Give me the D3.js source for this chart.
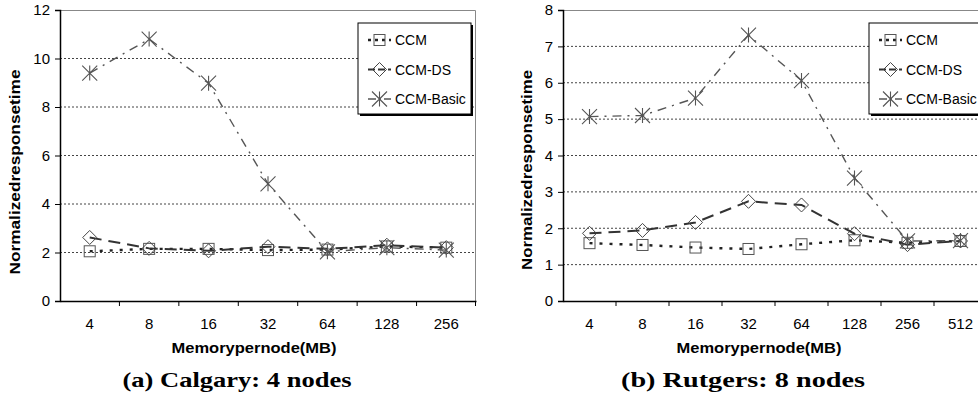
<!DOCTYPE html>
<html>
<head>
<meta charset="utf-8">
<script src="https://cdn.jsdelivr.net/npm/d3@7"></script>
<style>
  body { margin: 0; background: #fff; }
  svg { display: block; }
  text { font-family: Arial, "Liberation Sans", sans-serif; }
  text.caption { font-family: "Liberation Serif", "Times New Roman", serif; }
</style>
</head>
<body>
<svg id="chart" width="978" height="402"></svg>
<script>
// categories (memory per node, MB)
var memA = ["4", "8", "16", "32", "64", "128", "256"];
var memB = ["4", "8", "16", "32", "64", "128", "256", "512"];

// (a) Calgary: 4 nodes
var ccmA      = [2.05, 2.15, 2.15, 2.1, 2.12, 2.25, 2.2];
var ccmDsA    = [2.62, 2.17, 2.07, 2.24, 2.15, 2.3, 2.2];
var ccmBasicA = [9.4, 10.8, 8.98, 4.83, 2.03, 2.2, 2.1];

// (b) Rutgers: 8 nodes
var ccmB      = [1.59, 1.54, 1.47, 1.43, 1.56, 1.67, 1.6, 1.65];
var ccmDsB    = [1.86, 1.94, 2.16, 2.74, 2.64, 1.85, 1.55, 1.65];
var ccmBasicB = [5.07, 5.1, 5.58, 7.31, 6.06, 3.38, 1.65, 1.66];

var seriesNames = ["CCM", "CCM-DS", "CCM-Basic"];
var yTicksA = [0, 2, 4, 6, 8, 10, 12];
var yTicksB = [0, 1, 2, 3, 4, 5, 6, 7, 8];

const svg = d3.select("#chart");

// line + marker look for each series
var styles = {
  "CCM":       { stroke: "#222", width: 2.4, dash: "3,7", marker: "square" },
  "CCM-DS":    { stroke: "#333", width: 2, dash: "12,7", marker: "diamond" },
  "CCM-Basic": { stroke: "#555", width: 1.4, dash: "9,6,2,6", marker: "star" }
};

function drawMarker(g, type, x, y) {
  if (type == "square") {
    g.append("rect").attr("x", x - 5.5).attr("y", y - 5.5)
      .attr("width", 11).attr("height", 11)
      .attr("fill", "none").attr("stroke", "#555").attr("stroke-width", 1);
  } else if (type == "diamond") {
    g.append("path")
      .attr("d", `M${x},${y - 7}L${x + 7},${y}L${x},${y + 7}L${x - 7},${y}Z`)
      .attr("fill", "none").attr("stroke", "#444").attr("stroke-width", 1);
  } else {
    var r = 7.5;
    g.append("path")
      .attr("d", `M${x - r},${y - r}L${x + r},${y + r}M${x - r},${y + r}L${x + r},${y - r}M${x},${y - r}L${x},${y + r}`)
      .attr("fill", "none").attr("stroke", "#555").attr("stroke-width", 1.1);
  }
}

function drawChart(opt) {
  const g = svg.append("g");
  const x = d3.scaleBand().domain(opt.cats).range([opt.left, opt.right]).padding(0);
  const y = d3.scaleLinear().domain([0, opt.yMax]).range([opt.bottom, opt.top]);

  // grid lines
  g.append("g").selectAll("line")
    .data(opt.yTicks.filter(d => d > 0 && d < opt.yMax))
    .enter().append("line")
    .attr("x1", opt.left).attr("x2", opt.right)
    .attr("y1", d => y(d)).attr("y2", d => y(d))
    .attr("stroke", "#444").attr("stroke-width", 1)
    .attr("stroke-dasharray", "2,2");

  // top and right border
  g.append("path")
    .attr("d", `M${opt.left},${y(opt.yMax) + 0.5}H${opt.right - 0.5}V${opt.bottom}`)
    .attr("fill", "none").attr("stroke", "#888").attr("stroke-width", 1);

  // y axis
  const yAxis = g.append("g")
    .attr("transform", `translate(${opt.left},0)`)
    .call(d3.axisLeft(y).tickValues(opt.yTicks).tickSize(5).tickPadding(5).tickFormat(d3.format("d")));
  yAxis.select(".domain").attr("stroke", "#000").attr("stroke-width", 1.5);
  yAxis.selectAll("text").attr("font-size", 15).attr("fill", "#000");

  // x axis, ticks on the category boundaries
  const xAxis = g.append("g")
    .attr("transform", `translate(0,${opt.bottom})`)
    .call(d3.axisBottom(x).tickSize(0).tickPadding(17));
  xAxis.select(".domain").attr("stroke", "#000").attr("stroke-width", 1.5);
  xAxis.selectAll("text").attr("font-size", 15).attr("fill", "#000");
  g.append("g").selectAll("line")
    .data(opt.cats.slice(1))
    .enter().append("line")
    .attr("x1", d => x(d)).attr("x2", d => x(d))
    .attr("y1", opt.bottom).attr("y2", opt.bottom + 5)
    .attr("stroke", "#000");
  g.append("line")
    .attr("x1", opt.right - 0.5).attr("x2", opt.right - 0.5)
    .attr("y1", opt.bottom).attr("y2", opt.bottom + 5)
    .attr("stroke", "#000");

  // series
  opt.series.forEach((vals, i) => {
    const st = styles[seriesNames[i]];
    const pts = vals.map((v, j) => [x(opt.cats[j]) + x.bandwidth() / 2, y(v)]);
    g.append("path")
      .attr("d", d3.line()(pts))
      .attr("fill", "none")
      .attr("stroke", st.stroke).attr("stroke-width", st.width)
      .attr("stroke-dasharray", st.dash);
    const mg = g.append("g");
    pts.forEach(p => drawMarker(mg, st.marker, p[0], p[1]));
  });

  // legend
  const lg = g.append("g").attr("transform", `translate(${opt.legX},${opt.legY})`);
  lg.append("rect").attr("x", 2).attr("y", 2).attr("width", opt.legW).attr("height", 91).attr("fill", "#000");
  lg.append("rect").attr("x", 0).attr("y", 0).attr("width", opt.legW).attr("height", 91)
    .attr("fill", "#fff").attr("stroke", "#000").attr("stroke-width", 1);
  seriesNames.forEach((name, i) => {
    const st = styles[name];
    const ly = 17 + i * 29.5;
    lg.append("line")
      .attr("x1", 10).attr("x2", 33).attr("y1", ly).attr("y2", ly)
      .attr("stroke", st.stroke).attr("stroke-width", st.width)
      .attr("stroke-dasharray", i == 0 ? "3,4" : (i == 1 ? "7,3" : "8,3,2,3"));
    drawMarker(lg, st.marker, 21.5, ly);
    lg.append("text").attr("x", 37).attr("y", ly + 5)
      .attr("font-size", 14).text(name);
  });

  // axis titles
  g.append("text")
    .attr("transform", `translate(${opt.yLabX},${opt.yLabY}) rotate(-90)`)
    .attr("text-anchor", "middle")
    .attr("font-size", 14).attr("font-weight", "bold")
    .attr("textLength", opt.yLabLen).attr("lengthAdjust", "spacingAndGlyphs")
    .text("Normalizedresponsetime");
  g.append("text")
    .attr("x", opt.xLabX).attr("y", 353)
    .attr("text-anchor", "middle")
    .attr("font-size", 14).attr("font-weight", "bold")
    .attr("textLength", 165).attr("lengthAdjust", "spacingAndGlyphs")
    .text("Memorypernode(MB)");

  // caption
  g.append("text")
    .attr("class", "caption")
    .attr("x", opt.capX).attr("y", 387)
    .attr("text-anchor", "middle")
    .attr("font-size", 21).attr("font-weight", "bold")
    .attr("textLength", opt.capLen).attr("lengthAdjust", "spacingAndGlyphs")
    .text(opt.caption);
}

drawChart({
  cats: memA, yMax: 12, yTicks: yTicksA,
  series: [ccmA, ccmDsA, ccmBasicA],
  left: 60, right: 476, top: 10, bottom: 301,
  legX: 358, legY: 23, legW: 113,
  yLabX: 20, yLabY: 172, yLabLen: 205,
  xLabX: 254, capX: 237, capLen: 229,
  caption: "(a) Calgary: 4 nodes"
});

drawChart({
  cats: memB, yMax: 8, yTicks: yTicksB,
  series: [ccmB, ccmDsB, ccmBasicB],
  left: 563, right: 987, top: 10, bottom: 301,
  legX: 869, legY: 23, legW: 120,
  yLabX: 532, yLabY: 170, yLabLen: 200,
  xLabX: 759, capX: 743, capLen: 244,
  caption: "(b) Rutgers: 8 nodes"
});
</script>
</body>
</html>
